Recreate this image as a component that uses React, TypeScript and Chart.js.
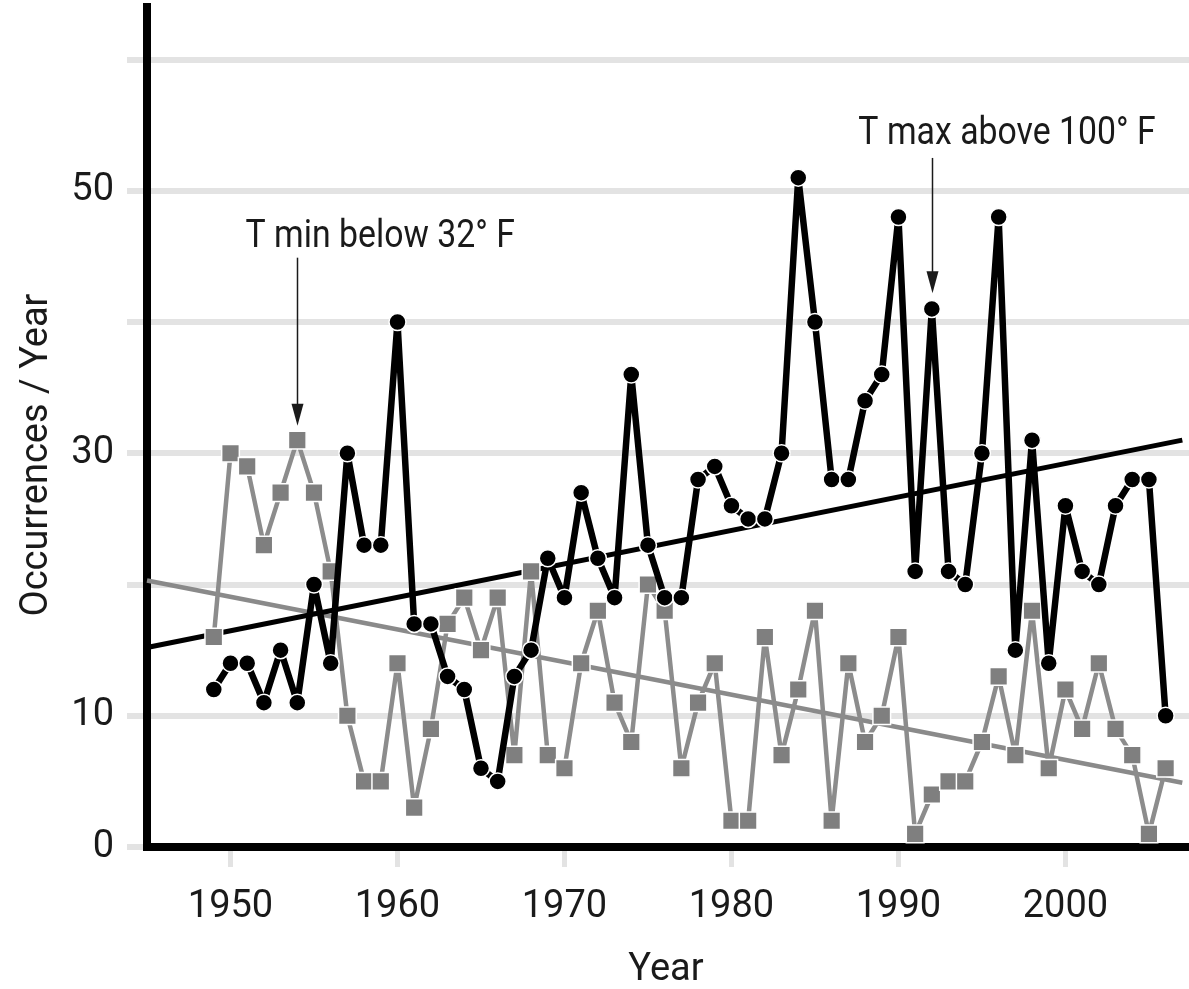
import React, { useEffect, useRef } from "react";
import { Chart, registerables } from "chart.js";

Chart.register(...registerables);

// Annual counts of extreme-temperature days
const years = [
  1949, 1950, 1951, 1952, 1953, 1954, 1955, 1956, 1957, 1958, 1959, 1960, 1961, 1962, 1963,
  1964, 1965, 1966, 1967, 1968, 1969, 1970, 1971, 1972, 1973, 1974, 1975, 1976, 1977, 1978,
  1979, 1980, 1981, 1982, 1983, 1984, 1985, 1986, 1987, 1988, 1989, 1990, 1991, 1992, 1993,
  1994, 1995, 1996, 1997, 1998, 1999, 2000, 2001, 2002, 2003, 2004, 2005, 2006,
];

// Days with T max above 100° F
const hotDays = [
  12, 14, 14, 11, 15, 11, 20, 14, 30, 23, 23, 40, 17, 17, 13,
  12, 6, 5, 13, 15, 22, 19, 27, 22, 19, 36, 23, 19, 19, 28,
  29, 26, 25, 25, 30, 51, 40, 28, 28, 34, 36, 48, 21, 41, 21,
  20, 30, 48, 15, 31, 14, 26, 21, 20, 26, 28, 28, 10,
];

// Days with T min below 32° F
const coldDays = [
  16, 30, 29, 23, 27, 31, 27, 21, 10, 5, 5, 14, 3, 9, 17,
  19, 15, 19, 7, 21, 7, 6, 14, 18, 11, 8, 20, 18, 6, 11,
  14, 2, 2, 16, 7, 12, 18, 2, 14, 8, 10, 16, 1, 4, 5,
  5, 8, 13, 7, 18, 6, 12, 9, 14, 9, 7, 1, 6,
];

// Linear trend end points
const trendYears = [1945, 2007];
const hotTrend = [15.2, 31.0];
const coldTrend = [20.3, 4.9];

// Axis ticks
const xTicks = [1950, 1960, 1970, 1980, 1990, 2000];
const yGridTicks = [0, 10, 20, 30, 40, 50, 60];
const yLabelTicks = [0, 10, 30, 50];

const FONT = "Roboto, 'Open Sans', 'DejaVu Sans', sans-serif";
const TEXT = "#1a1a1a";

// Callout labels with arrows pointing at a marker
const callouts = [
  { text: "T min below 32° F", textX: 1950.9, textY: 45.7, arrowX: 1954, from: 44.9, to: 32.1 },
  { text: "T max above 100° F", textX: 1987.6, textY: 53.6, arrowX: 1992, from: 52.5, to: 42.2 },
];

const calloutPlugin = {
  id: "callouts",
  afterDatasetsDraw(chart: any) {
    const { ctx, chartArea } = chart;
    const xs = chart.scales.x;
    const ys = chart.scales.y;
    ctx.save();
    ctx.font = `38px ${FONT}`;
    ctx.fillStyle = TEXT;
    ctx.strokeStyle = TEXT;
    ctx.textBaseline = "alphabetic";
    ctx.textAlign = "left";
    for (const c of callouts) {
      const tx = xs.getPixelForValue(c.textX);
      const ty = ys.getPixelForValue(c.textY);
      ctx.save();
      ctx.translate(tx, ty);
      ctx.scale(0.89, 1);
      ctx.fillText(c.text, 0, 0);
      ctx.restore();
      const ax = Math.round(xs.getPixelForValue(c.arrowX)) + 0.5;
      const y0 = ys.getPixelForValue(c.from);
      const y1 = ys.getPixelForValue(c.to);
      const head = 22;
      ctx.lineWidth = 1.5;
      ctx.beginPath();
      ctx.moveTo(ax, y0);
      ctx.lineTo(ax, y1 - head + 2);
      ctx.stroke();
      ctx.beginPath();
      ctx.moveTo(ax - 6, y1 - head);
      ctx.lineTo(ax + 6, y1 - head);
      ctx.lineTo(ax, y1);
      ctx.closePath();
      ctx.fill();
    }

    // Axis titles
    ctx.textAlign = "center";
    ctx.textBaseline = "alphabetic";
    ctx.fillText("Year", (chartArea.left + chartArea.right) / 2 - 2, 980);
    ctx.translate(47, 455);
    ctx.rotate(-Math.PI / 2);
    ctx.fillText("Occurrences / Year", 0, 0);
    ctx.restore();
  },
};

export default function App() {
  const ref = useRef<HTMLCanvasElement>(null);

  useEffect(() => {
    const canvas = ref.current;
    if (!canvas) return;

    const chart = new Chart(canvas, {
      type: "line",
      data: {
        datasets: [
          {
            label: "T max above 100° F",
            data: years.map((yr, i) => ({ x: yr, y: hotDays[i] })),
            borderColor: "#000",
            borderWidth: 6.5,
            borderJoinStyle: "bevel",
            pointStyle: "circle",
            pointRadius: 8.5,
            pointBackgroundColor: "#000",
            pointBorderColor: "#fff",
            pointBorderWidth: 1.5,
            tension: 0,
            clip: false,
            order: 0,
          },
          {
            label: "T min below 32° F",
            data: years.map((yr, i) => ({ x: yr, y: coldDays[i] })),
            borderColor: "#8c8c8c",
            borderWidth: 4.5,
            borderJoinStyle: "bevel",
            pointStyle: "rect",
            pointRadius: 12.5,
            pointBackgroundColor: "#7f7f7f",
            pointBorderColor: "#fff",
            pointBorderWidth: 1.5,
            tension: 0,
            clip: false,
            order: 1,
          },
          {
            label: "T max trend",
            data: trendYears.map((yr, i) => ({ x: yr, y: hotTrend[i] })),
            borderColor: "#000",
            borderWidth: 5,
            pointRadius: 0,
            clip: false,
            order: 2,
          },
          {
            label: "T min trend",
            data: trendYears.map((yr, i) => ({ x: yr, y: coldTrend[i] })),
            borderColor: "#8a8a8a",
            borderWidth: 4.5,
            pointRadius: 0,
            clip: false,
            order: 3,
          },
        ],
      },
      options: {
        responsive: false,
        animation: false,
        devicePixelRatio: 1,
        layout: { autoPadding: false, padding: { top: 7, left: 0, right: 0, bottom: 0 } },
        plugins: {
          legend: { display: false },
          tooltip: { enabled: false },
          title: { display: false },
        },
        scales: {
          x: {
            type: "linear",
            min: 1945,
            max: 2007.4,
            afterBuildTicks: (s: any) => {
              s.ticks = xTicks.map((v) => ({ value: v }));
            },
            afterFit: (s: any) => {
              s.height = 142;
              s.paddingLeft = 0;
              s.paddingRight = 0;
            },
            grid: {
              drawOnChartArea: false,
              drawTicks: true,
              tickLength: 20,
              color: "#e3e3e3",
              lineWidth: 5,
            },
            border: { display: true, color: "#000", width: 8 },
            ticks: {
              font: { family: FONT, size: 38 },
              color: TEXT,
              padding: 18,
              maxRotation: 0,
              autoSkip: false,
              callback: (v: any) => String(v),
            },
          },
          y: {
            type: "linear",
            min: 0,
            max: 64,
            afterBuildTicks: (s: any) => {
              s.ticks = yGridTicks.map((v) => ({ value: v }));
            },
            afterFit: (s: any) => {
              s.width = 147;
              s.paddingTop = 0;
              s.paddingBottom = 0;
            },
            grid: {
              color: "#e3e3e3",
              lineWidth: 6,
              drawTicks: true,
              tickLength: 20,
            },
            border: { display: true, color: "#000", width: 8 },
            ticks: {
              font: { family: FONT, size: 38 },
              color: TEXT,
              padding: 13,
              autoSkip: false,
              callback: (v: any) => (yLabelTicks.includes(Number(v)) ? String(v) : ""),
            },
          },
        },
      },
      plugins: [calloutPlugin],
    });

    const fonts = (document as any).fonts;
    if (fonts && fonts.load) {
      fonts.load(`38px Roboto`).then(() => chart.update()).catch(() => {});
    }

    return () => chart.destroy();
  }, []);

  return (
    <div style={{ position: "absolute", left: 0, top: 0, width: 1189, height: 989, background: "#fff" }}>
      <canvas ref={ref} width={1189} height={989} style={{ display: "block" }} />
    </div>
  );
}
